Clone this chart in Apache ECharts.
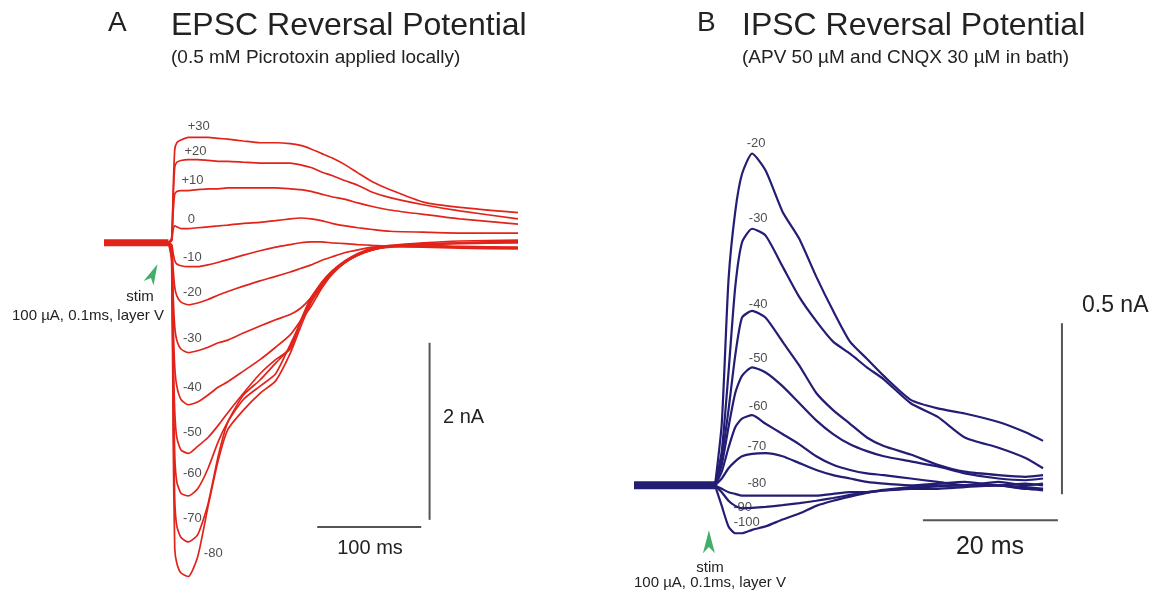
<!DOCTYPE html>
<html>
<head>
<meta charset="utf-8">
<title>EPSC / IPSC reversal potential</title>
<script src="https://cdn.jsdelivr.net/npm/echarts/dist/echarts.min.js"></script>
<style>
    html, body { margin: 0; padding: 0; background: #fff; }
    #main { width: 1167px; height: 590px; }
</style>
</head>
<body>
<div id="main"></div>
<script>
// ---- panel A: EPSC, time in ms after stim, current in nA ----
var timeA = [0, 3, 4.5, 6, 8, 12, 19, 28, 38, 48, 57, 72, 88, 103, 117, 127, 137, 147, 157, 170, 182, 196, 213, 245, 280, 336];
var epscP30 = [0, 0.05, 0.6, 1.05, 1.13, 1.16, 1.19, 1.19, 1.19, 1.18, 1.17, 1.15, 1.13, 1.13, 1.12, 1.10, 1.06, 1.01, 0.96, 0.88, 0.79, 0.69, 0.60, 0.46, 0.40, 0.34];
var epscP20 = [0, 0.04, 0.5, 0.85, 0.91, 0.93, 0.94, 0.94, 0.93, 0.92, 0.92, 0.91, 0.90, 0.90, 0.90, 0.88, 0.85, 0.80, 0.76, 0.70, 0.65, 0.57, 0.51, 0.43, 0.36, 0.27];
var epscP10 = [0, 0.03, 0.35, 0.55, 0.58, 0.59, 0.59, 0.60, 0.61, 0.61, 0.62, 0.62, 0.62, 0.62, 0.61, 0.60, 0.58, 0.55, 0.52, 0.49, 0.45, 0.41, 0.37, 0.32, 0.27, 0.21];
var epsc0 = [0, 0.02, 0.15, 0.19, 0.18, 0.16, 0.16, 0.17, 0.18, 0.19, 0.20, 0.22, 0.23, 0.25, 0.27, 0.28, 0.27, 0.25, 0.22, 0.19, 0.17, 0.15, 0.13, 0.12, 0.11, 0.11];
var epscM10 = [0, -0.02, -0.12, -0.20, -0.24, -0.26, -0.27, -0.27, -0.25, -0.22, -0.19, -0.14, -0.09, -0.05, -0.02, 0.0, 0.01, 0.01, 0.0, -0.01, -0.02, -0.03, -0.04, -0.05, -0.06, -0.07];
var epscM20 = [0, -0.03, -0.3, -0.5, -0.6, -0.67, -0.70, -0.68, -0.64, -0.59, -0.55, -0.49, -0.43, -0.38, -0.33, -0.29, -0.25, -0.20, -0.16, -0.11, -0.08, -0.05, -0.04, -0.04, -0.05, -0.06];
var epscM30 = [0, -0.05, -0.6, -0.95, -1.10, -1.20, -1.24, -1.22, -1.18, -1.13, -1.10, -1.02, -0.94, -0.87, -0.81, -0.74, -0.62, -0.45, -0.32, -0.20, -0.12, -0.06, -0.03, 0.0, 0.02, 0.03];
var epscM40 = [0, -0.08, -0.9, -1.40, -1.62, -1.77, -1.83, -1.80, -1.72, -1.63, -1.57, -1.45, -1.32, -1.18, -1.04, -0.88, -0.72, -0.52, -0.36, -0.22, -0.14, -0.08, -0.04, -0.01, 0.0, 0.02];
var epscM50 = [0, -0.10, -1.2, -1.90, -2.20, -2.34, -2.38, -2.30, -2.20, -2.06, -1.92, -1.70, -1.48, -1.32, -1.20, -0.90, -0.66, -0.48, -0.34, -0.22, -0.14, -0.08, -0.04, -0.02, 0.0, 0.01];
var epscM60 = [0, -0.12, -1.5, -2.40, -2.70, -2.83, -2.86, -2.78, -2.55, -2.24, -2.02, -1.72, -1.55, -1.36, -1.18, -0.88, -0.62, -0.46, -0.33, -0.21, -0.13, -0.07, -0.04, -0.02, -0.01, 0.0];
var epscM70 = [0, -0.15, -1.8, -2.90, -3.20, -3.33, -3.38, -3.30, -2.95, -2.40, -2.03, -1.77, -1.62, -1.48, -1.15, -0.90, -0.64, -0.47, -0.33, -0.21, -0.13, -0.07, -0.04, -0.03, -0.04, -0.05];
var epscM80 = [0, -0.20, -2.2, -3.45, -3.62, -3.73, -3.77, -3.55, -2.98, -2.45, -2.11, -1.89, -1.70, -1.56, -1.25, -0.95, -0.68, -0.50, -0.35, -0.22, -0.14, -0.08, -0.05, -0.03, -0.05, -0.06];
var baseTimeA = [-62, 0];
var baseA = [0, 0];

var namesA = ['+30', '+20', '+10', '0', '-10', '-20', '-30', '-40', '-50', '-60', '-70', '-80'];
var labelTimeA = [29, 26, 23, 22, 23, 23, 23, 23, 23, 23, 23, 43];
var labelValA = [1.31, 1.03, 0.70, 0.26, -0.17, -0.56, -1.08, -1.63, -2.14, -2.60, -3.11, -3.51];

// scale bars A: 100 ms and 2 nA
var barTimeA = [143, 243];
var barLevelA = -3.21;
var barVTimeA = 251;
var barVA = [-1.13, -3.13];
var stimArrowA = [-14.9, -0.35];

// ---- panel B: IPSC ----
var timeB = [0, 1, 2, 3, 4, 5.5, 7.5, 10, 12.5, 15, 17.5, 20, 22.5, 25, 29, 33, 37, 42, 46, 48.6];
var ipscM20 = [0, 0.18, 0.6, 0.8, 0.91, 0.97, 0.92, 0.80, 0.72, 0.61, 0.51, 0.42, 0.37, 0.32, 0.25, 0.225, 0.21, 0.185, 0.155, 0.13];
var ipscM30 = [0, 0.10, 0.33, 0.58, 0.71, 0.75, 0.73, 0.64, 0.55, 0.48, 0.42, 0.385, 0.345, 0.31, 0.24, 0.20, 0.14, 0.11, 0.08, 0.05];
var ipscM40 = [0, 0.08, 0.22, 0.38, 0.49, 0.51, 0.49, 0.42, 0.35, 0.27, 0.22, 0.18, 0.14, 0.115, 0.09, 0.06, 0.04, 0.03, 0.025, 0.03];
var ipscM50 = [0, 0.06, 0.17, 0.27, 0.32, 0.345, 0.33, 0.29, 0.24, 0.19, 0.15, 0.12, 0.10, 0.085, 0.07, 0.055, 0.035, 0.02, 0.015, 0.02];
var ipscM60 = [0, 0.04, 0.11, 0.17, 0.195, 0.205, 0.18, 0.15, 0.12, 0.085, 0.06, 0.045, 0.035, 0.03, 0.02, 0.01, 0.0, 0.01, 0.0, 0.005];
var ipscM70 = [0, 0.02, 0.05, 0.07, 0.085, 0.092, 0.094, 0.085, 0.065, 0.045, 0.03, 0.02, 0.01, 0.005, 0.0, 0.005, 0.01, 0.0, 0.005, 0.0];
var ipscM80 = [0, -0.01, -0.02, -0.025, -0.03, -0.03, -0.03, -0.03, -0.03, -0.03, -0.025, -0.02, -0.02, -0.015, -0.01, -0.01, -0.005, 0.0, -0.01, -0.01];
var ipscM90 = [0, -0.02, -0.045, -0.06, -0.067, -0.066, -0.063, -0.058, -0.052, -0.045, -0.037, -0.028, -0.02, -0.013, -0.005, 0.0, 0.0, 0.0, -0.005, -0.01];
var ipscM100 = [0, -0.06, -0.12, -0.14, -0.14, -0.13, -0.12, -0.10, -0.082, -0.06, -0.045, -0.033, -0.022, -0.015, -0.008, -0.003, 0.0, 0.0, -0.01, -0.015];
var baseTimeB = [-12, 0];
var baseB = [0, 0];

var namesB = ['-20', '-30', '-40', '-50', '-60', '-70', '-80', '-90', '-100'];
var labelTimeB = [6.1, 6.4, 6.4, 6.4, 6.4, 6.2, 6.2, 4.1, 4.7];
var labelValB = [1.00, 0.78, 0.53, 0.37, 0.23, 0.114, 0.006, -0.064, -0.108];

// scale bars B: 20 ms and 0.5 nA
var barTimeB = [30.8, 50.8];
var barLevelB = -0.102;
var barVTimeB = 51.4;
var barVB = [0.474, -0.026];
var stimArrowB = [-0.9, -0.165];

var red = '#e2231a';
var navy = '#231d74';
var green = '#139a45';
var grey = '#555';
var font = '"Liberation Sans", Arial, sans-serif';
var arrowPath = 'path://M6,0 L12,22 L6,16 L0,22 Z';

function pairs(times, vals) {
    var out = [];
    for (var i = 0; i < times.length; i++) {
        out.push([times[i], vals[i]]);
    }
    return out;
}

function traceSeries(data, idx, color, width) {
    return {
        type: 'line',
        xAxisIndex: idx,
        yAxisIndex: idx,
        data: data,
        showSymbol: false,
        smooth: 0.2,
        silent: true,
        clip: false,
        lineStyle: { color: color, width: width }
    };
}

function labelSeries(idx, names, ts, vs) {
    var d = [];
    for (var i = 0; i < names.length; i++) {
        d.push({ value: [ts[i], vs[i]], name: names[i] });
    }
    return {
        type: 'scatter',
        xAxisIndex: idx,
        yAxisIndex: idx,
        symbolSize: 0,
        silent: true,
        clip: false,
        data: d,
        label: {
            show: true,
            position: 'inside',
            formatter: '{b}',
            color: '#222',
            fontSize: 13,
            fontFamily: font
        }
    };
}

var series = [];
var tracesA = [epscP30, epscP20, epscP10, epsc0, epscM10, epscM20, epscM30, epscM40, epscM50, epscM60, epscM70, epscM80];
series.push(traceSeries(pairs(baseTimeA, baseA), 0, red, 7));
tracesA.forEach(function (vals) {
    series.push(traceSeries(pairs(timeA, vals), 0, red, 1.7));
});
series.push(labelSeries(0, namesA, labelTimeA, labelValA));
series.push(traceSeries([[barTimeA[0], barLevelA], [barTimeA[1], barLevelA]], 0, grey, 2));
series.push(traceSeries([[barVTimeA, barVA[0]], [barVTimeA, barVA[1]]], 0, grey, 2));

var tracesB = [ipscM20, ipscM30, ipscM40, ipscM50, ipscM60, ipscM70, ipscM80, ipscM90, ipscM100];
series.push(traceSeries(pairs(baseTimeB, baseB), 1, navy, 8));
tracesB.forEach(function (vals) {
    series.push(traceSeries(pairs(timeB, vals), 1, navy, 2.2));
});
series.push(labelSeries(1, namesB, labelTimeB, labelValB));
series.push(traceSeries([[barTimeB[0], barLevelB], [barTimeB[1], barLevelB]], 1, grey, 2));
series.push(traceSeries([[barVTimeB, barVB[0]], [barVTimeB, barVB[1]]], 1, grey, 2));

// stim arrowheads
series.push({
    type: 'scatter', xAxisIndex: 0, yAxisIndex: 0, silent: true, clip: false,
    symbol: arrowPath, symbolSize: [11, 21], symbolRotate: -25,
    itemStyle: { color: green },
    data: [stimArrowA]
});
series.push({
    type: 'scatter', xAxisIndex: 1, yAxisIndex: 1, silent: true, clip: false,
    symbol: arrowPath, symbolSize: [12, 23],
    itemStyle: { color: green },
    data: [stimArrowB]
});

function txt(x, y, text, size, align) {
    return {
        type: 'text',
        x: x,
        y: y,
        silent: true,
        style: {
            text: text,
            fill: '#222',
            font: size + 'px ' + font,
            textAlign: align || 'left',
            textVerticalAlign: 'middle'
        }
    };
}

var hidden = { show: false };
var option = {
    animation: false,
    backgroundColor: '#fff',
    grid: [
        { left: 104, top: 110, width: 414, height: 478 },
        { left: 634, top: 109, width: 445.5, height: 479 }
    ],
    xAxis: [
        { type: 'value', gridIndex: 0, min: -62, max: 336, axisLine: hidden, axisTick: hidden, axisLabel: hidden, splitLine: hidden },
        { type: 'value', gridIndex: 1, min: -12, max: 54, axisLine: hidden, axisTick: hidden, axisLabel: hidden, splitLine: hidden }
    ],
    yAxis: [
        { type: 'value', gridIndex: 0, min: -3.9, max: 1.5, axisLine: hidden, axisTick: hidden, axisLabel: hidden, splitLine: hidden },
        { type: 'value', gridIndex: 1, min: -0.3, max: 1.1, axisLine: hidden, axisTick: hidden, axisLabel: hidden, splitLine: hidden }
    ],
    graphic: [
        txt(108, 23, 'A', 28),
        txt(171, 26, 'EPSC Reversal Potential', 32),
        txt(171, 58, '(0.5 mM Picrotoxin applied locally)', 19),
        txt(697, 23, 'B', 28),
        txt(742, 26, 'IPSC Reversal Potential', 32),
        txt(742, 58, '(APV 50 \u00b5M and CNQX 30 \u00b5M in bath)', 19),
        txt(140, 297, 'stim', 15, 'center'),
        txt(164, 316, '100 \u00b5A, 0.1ms, layer V', 15, 'right'),
        txt(710, 568, 'stim', 15, 'center'),
        txt(710, 583, '100 \u00b5A, 0.1ms, layer V', 15, 'center'),
        txt(370, 548, '100 ms', 20, 'center'),
        txt(443, 417, '2 nA', 20),
        txt(990, 547, '20 ms', 25, 'center'),
        txt(1082, 306, '0.5 nA', 23)
    ],
    series: series
};

var myChart = echarts.init(document.getElementById('main'));
myChart.setOption(option);
</script>
</body>
</html>
